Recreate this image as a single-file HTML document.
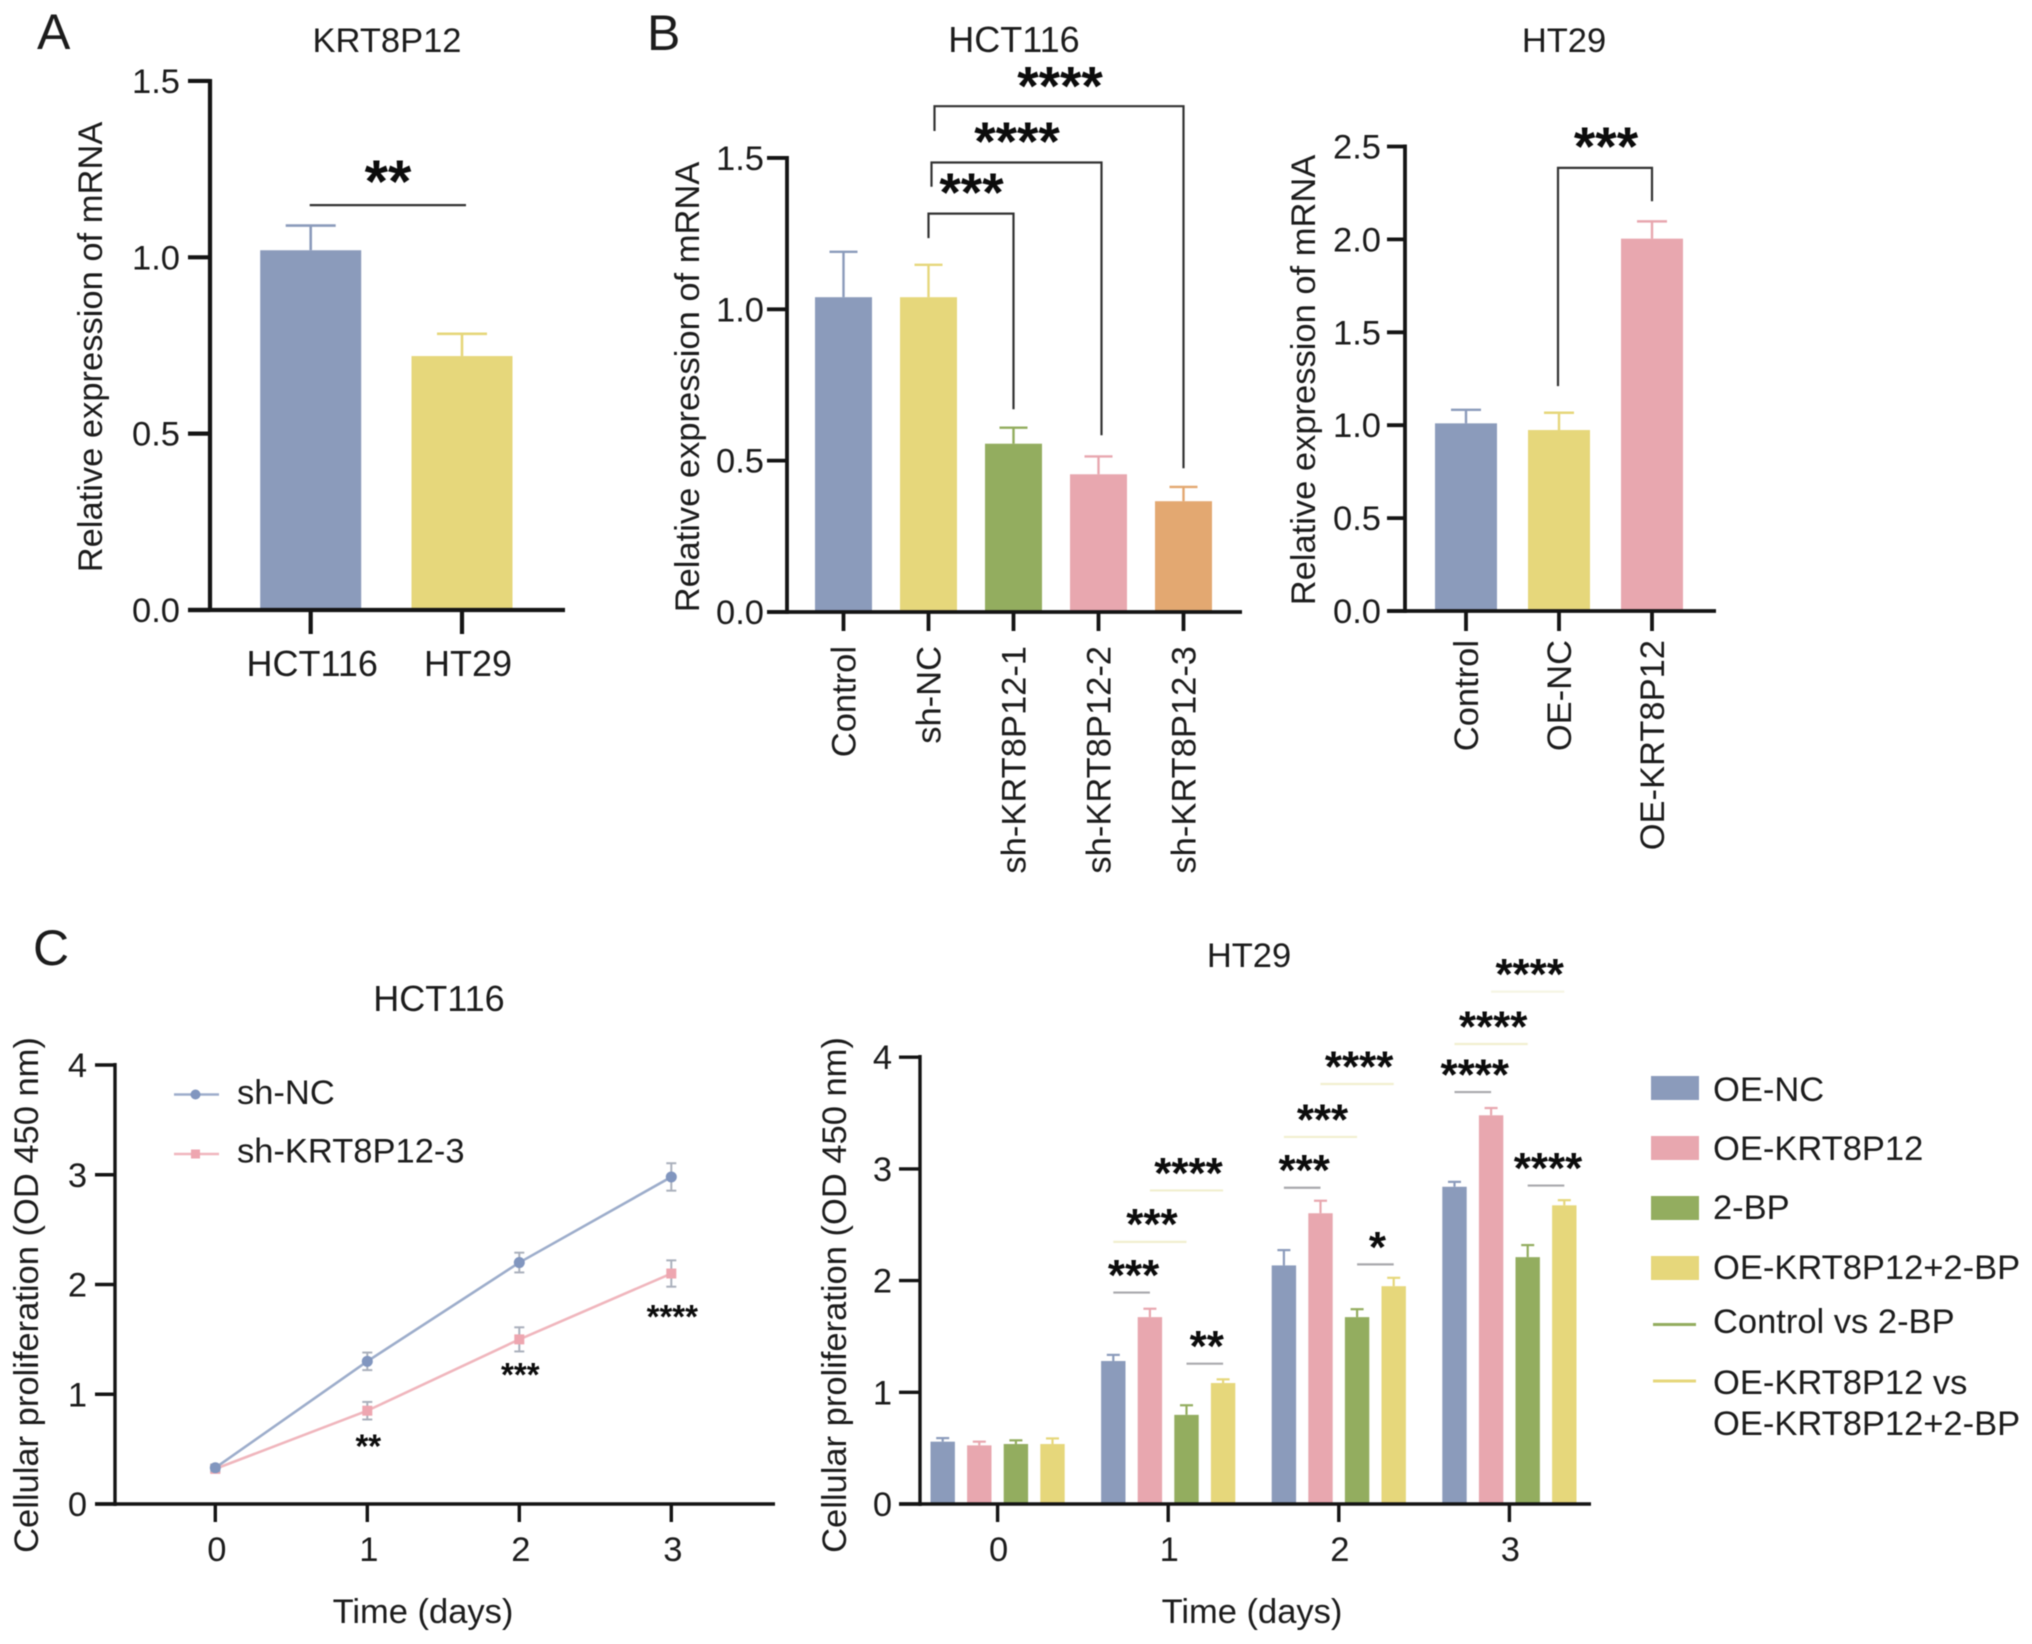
<!DOCTYPE html>
<html lang="en">
<head>
<meta charset="utf-8">
<title>KRT8P12 expression and proliferation figure</title>
<style>
html,body{margin:0;padding:0;background:#fff;width:2032px;height:1644px;overflow:hidden}
svg{display:block;filter:blur(.55px)}
text{font-family:"Liberation Sans",Arial,sans-serif;fill:#1c1c1c;font-size:34.5px}
.letter{font-size:50px}
.star{font-weight:700;fill:#0c0c0c}
.wide{font-size:36px}
</style>
</head>
<body>
<svg id="fig" xmlns="http://www.w3.org/2000/svg" width="2032" height="1644" viewBox="0 0 2032 1644">
  <rect x="0" y="0" width="2032" height="1644" fill="#fff"/>

  <!-- static text -->
  <text class="letter" x="37" y="49">A</text>
  <text class="letter" x="647" y="50">B</text>
  <text class="letter" x="33" y="965">C</text>

  <text x="387" y="52" text-anchor="middle">KRT8P12</text>
  <text class="wide" x="1014" y="52" text-anchor="middle">HCT116</text>
  <text x="1564" y="52" text-anchor="middle">HT29</text>
  <text class="wide" x="439" y="1011" text-anchor="middle">HCT116</text>
  <text x="1249" y="967" text-anchor="middle">HT29</text>

  <text transform="translate(102,347) rotate(-90)" text-anchor="middle">Relative expression of mRNA</text>
  <text transform="translate(699,387) rotate(-90)" text-anchor="middle">Relative expression of mRNA</text>
  <text transform="translate(1315,380) rotate(-90)" text-anchor="middle">Relative expression of mRNA</text>
  <text transform="translate(38,1295) rotate(-90)" text-anchor="middle">Cellular proliferation (OD 450 nm)</text>
  <text transform="translate(846,1295) rotate(-90)" text-anchor="middle">Cellular proliferation (OD 450 nm)</text>

  <text x="423" y="1623" text-anchor="middle">Time (days)</text>
  <text x="1252" y="1623" text-anchor="middle">Time (days)</text>

  <g>
    <line x1="174" y1="1094.5" x2="219" y2="1094.5" stroke="#9dadcb" stroke-width="2.5"/>
    <circle cx="195.5" cy="1094.5" r="5" fill="#8196bf"/>
    <text x="237" y="1104">sh-NC</text>
    <line x1="174" y1="1154" x2="219" y2="1154" stroke="#f0b6bd" stroke-width="2.5"/>
    <rect x="191" y="1149.5" width="9" height="9" fill="#eea6b0"/>
    <text x="237" y="1162.5">sh-KRT8P12-3</text>
  </g>

  <g>
    <rect x="1651" y="1076" width="48" height="24" fill="#8b9bbb"/>
    <text x="1713" y="1101">OE-NC</text>
    <rect x="1651" y="1136" width="48" height="24" fill="#e8a7af"/>
    <text x="1713" y="1160">OE-KRT8P12</text>
    <rect x="1651" y="1196" width="48" height="24" fill="#93ad5f"/>
    <text x="1713" y="1219">2-BP</text>
    <rect x="1651" y="1256" width="48" height="24" fill="#e6d77b"/>
    <text x="1713" y="1279">OE-KRT8P12+2-BP</text>
    <line x1="1653" y1="1324.5" x2="1696" y2="1324.5" stroke="#93ad5f" stroke-width="3"/>
    <text x="1713" y="1333">Control vs 2-BP</text>
    <line x1="1653" y1="1381" x2="1696" y2="1381" stroke="#e6d77b" stroke-width="3"/>
    <text x="1713" y="1394">OE-KRT8P12 vs</text>
    <text x="1713" y="1435">OE-KRT8P12+2-BP</text>
  </g>
</svg>

<script>
// ---------- data ----------
const aCategories = ['HCT116', 'HT29'];
const aValues = [1.02, 0.72];
const aErrors = [0.07, 0.063];
const expressionTicksA = ['0.0', '0.5', '1.0', '1.5'];

const bHctCategories = ['Control', 'sh-NC', 'sh-KRT8P12-1', 'sh-KRT8P12-2', 'sh-KRT8P12-3'];
const bHctValues = [1.04, 1.04, 0.556, 0.455, 0.366];
const bHctErrors = [0.15, 0.107, 0.053, 0.059, 0.047];
const expressionTicksB = ['0.0', '0.5', '1.0', '1.5'];

const bHtCategories = ['Control', 'OE-NC', 'OE-KRT8P12'];
const bHtValues = [1.01, 0.974, 2.004];
const bHtErrors = [0.073, 0.093, 0.093];
const expressionTicksHt = ['0.0', '0.5', '1.0', '1.5', '2.0', '2.5'];

const timeLabels = ['0', '1', '2', '3'];
const prolifTicks = ['0', '1', '2', '3', '4'];
const lineShNc = [0.33, 1.3, 2.2, 2.98];
const lineShNcErr = [0.03, 0.08, 0.09, 0.125];
const lineShKrt = [0.32, 0.85, 1.5, 2.1];
const lineShKrtErr = [0.03, 0.08, 0.11, 0.12];
const lineStars = ['', '**', '***', '****'];

const oeNc = [0.558, 1.28, 2.136, 2.84];
const oeNcErr = [0.032, 0.055, 0.137, 0.044];
const oeKrt = [0.525, 1.673, 2.603, 3.48];
const oeKrtErr = [0.033, 0.075, 0.112, 0.065];
const twoBp = [0.537, 0.798, 1.673, 2.21];
const twoBpErr = [0.033, 0.086, 0.071, 0.108];
const combo = [0.537, 1.083, 1.95, 2.674];
const comboErr = [0.05, 0.033, 0.075, 0.046];

// ---------- helpers ----------
const NS = 'http://www.w3.org/2000/svg';
const fig = document.getElementById('fig');
const BLUE = '#8b9bbb', YEL = '#e6d77b', GRN = '#93ad5f', PNK = '#e8a7af', ORG = '#e3a871';
const INK = '#141414', GREY = '#a9a9ad', PALE = '#f1efcf';

function mk(tag, attrs, name, parent) {
  const el = document.createElementNS(NS, tag);
  for (const k in attrs) el.setAttribute(k, attrs[k]);
  
  
  (parent || fig).appendChild(el);
  return el;
}
function seg(x1, y1, x2, y2, stroke, w, name, parent) {
  return mk('line', {x1: x1, y1: y1, x2: x2, y2: y2, stroke: stroke, 'stroke-width': w}, name, parent);
}
function label(x, y, str, anchor, name, parent, rotate, size) {
  const attrs = {'text-anchor': anchor};
  if (rotate) attrs.transform = 'translate(' + x + ',' + y + ') rotate(-90)';
  else { attrs.x = x; attrs.y = y; }
  if (size) attrs.style = 'font-size:' + size + 'px';
  const t = mk('text', attrs, name, parent);
  t.textContent = str;
  return t;
}
function stars(cx, cy, str, size, name, parent) {
  const t = mk('text', {x: cx, y: cy + size * 0.475, 'text-anchor': 'middle', 'class': 'star', style: 'font-size:' + size + 'px'}, name, parent);
  t.textContent = str;
  return t;
}
function yAxis(g, cfg, yf, labels) {
  seg(cfg.axisX, cfg.top - 2, cfg.axisX, cfg.base + 2, INK, cfg.w, 'y-axis-line', g);
  labels.forEach(function (lab) {
    const v = parseFloat(lab), y = yf(v);
    seg(cfg.tickLeft, y, cfg.axisX, y, INK, cfg.w, 'y-tick-' + lab, g);
    label(cfg.labelRight, y + 12, lab, 'end', 'y-tick-label-' + lab, g);
  });
}
function xAxisLine(g, cfg) {
  seg(cfg.tickLeft, cfg.base, cfg.right, cfg.base, INK, cfg.w, 'x-axis-line', g);
}
function bars(g, cats, vals, errs, colors, xf, yf, bw, capW, errW) {
  vals.forEach(function (v, i) {
    const c = xf(i), top = yf(v), et = yf(v + errs[i]);
    seg(c, top, c, et, colors[i], errW, 'error-stem-' + cats[i], g);
    seg(c - capW / 2, et, c + capW / 2, et, colors[i], errW, 'error-cap-' + cats[i], g);
    mk('rect', {x: c - bw / 2, y: top, width: bw, height: yf(0) - top, fill: colors[i]}, 'bar-' + cats[i], g);
  });
}
function bracket(g, xa, ya, top, xb, yb, name) {
  mk('path', {d: 'M' + xa + ' ' + ya + 'V' + top + 'H' + xb + 'V' + yb, fill: 'none', stroke: '#333', 'stroke-width': 2.2}, name, g);
}

// ---------- Panel A ----------
(function () {
  const g = mk('g', {}, 'chart-a-krt8p12');
  const yf = function (v) { return 610 - v * 352.7; };
  const xf = function (i) { return 310.7 + i * 151.3; };
  const cfg = {axisX: 210, top: 81, base: 610, tickLeft: 188, labelRight: 180, right: 565, w: 4.2};
  bars(g, aCategories, aValues, aErrors, [BLUE, YEL], xf, yf, 101, 50, 2.6);
  yAxis(g, cfg, yf, expressionTicksA);
  xAxisLine(g, cfg);
  aCategories.forEach(function (c, i) {
    seg(xf(i), 610, xf(i), 634, INK, 4.2, 'x-tick-' + c, g);
    label(xf(i) + (i ? 6 : 1.5), 676, c, 'middle', 'x-tick-label-' + c, g, false, 36);
  });
  seg(xf(0) - 1, yf(1.148), xf(1) + 4, yf(1.148), '#333', 2.2, 'significance-line', g);
  stars(388, 173.5, '**', 60, 'significance-stars', g);
})();

// ---------- Panel B HCT116 ----------
(function () {
  const g = mk('g', {}, 'chart-b-hct116');
  const yf = function (v) { return 612 - v * 302.7; };
  const xf = function (i) { return 843.5 + i * 85; };
  const cfg = {axisX: 787, top: 158, base: 612, tickLeft: 767, labelRight: 764, right: 1242, w: 3.8};
  bars(g, bHctCategories, bHctValues, bHctErrors, [BLUE, YEL, GRN, PNK, ORG], xf, yf, 57, 28, 2.4);
  yAxis(g, cfg, yf, expressionTicksB);
  xAxisLine(g, cfg);
  bHctCategories.forEach(function (c, i) {
    seg(xf(i), 612, xf(i), 631, INK, 3.8, 'x-tick-' + c, g);
    label(xf(i) + 12, 646, c, 'end', 'x-tick-label-' + c, g, true);
  });
  bracket(g, xf(1), yf(1.235), yf(1.316), xf(2), yf(0.67), 'bracket-sh-nc-vs-sh-1');
  stars(971.5, 185, '***', 55, 'significance-stars-sh-1', g);
  bracket(g, xf(1) + 3, yf(1.405), yf(1.485), xf(3) + 3, yf(0.584), 'bracket-sh-nc-vs-sh-2');
  stars(1017, 134, '****', 55, 'significance-stars-sh-2', g);
  bracket(g, xf(1) + 6, yf(1.589), yf(1.671), xf(4), yf(0.475), 'bracket-sh-nc-vs-sh-3');
  stars(1060, 78.6, '****', 55, 'significance-stars-sh-3', g);
})();

// ---------- Panel B HT29 ----------
(function () {
  const g = mk('g', {}, 'chart-b-ht29');
  const yf = function (v) { return 611 - v * 185.8; };
  const xf = function (i) { return 1466 + i * 93; };
  const cfg = {axisX: 1405, top: 146.5, base: 611, tickLeft: 1387, labelRight: 1381, right: 1716, w: 3.8};
  bars(g, bHtCategories, bHtValues, bHtErrors, [BLUE, YEL, PNK], xf, yf, 62, 30, 2.4);
  yAxis(g, cfg, yf, expressionTicksHt);
  xAxisLine(g, cfg);
  bHtCategories.forEach(function (c, i) {
    seg(xf(i), 611, xf(i), 631, INK, 3.8, 'x-tick-' + c, g);
    label(xf(i) + 12, 640, c, 'end', 'x-tick-label-' + c, g, true);
  });
  bracket(g, xf(1) - 1, yf(1.21), yf(2.385), xf(2), yf(2.205), 'bracket-oe-nc-vs-oe-krt8p12');
  stars(1606, 139, '***', 55, 'significance-stars-oe', g);
})();

// ---------- Panel C HCT116 line chart ----------
(function () {
  const g = mk('g', {}, 'chart-c-hct116');
  const yf = function (v) { return 1504 - v * 109.75; };
  const xf = function (i) { return 215.3 + i * 152; };
  const cfg = {axisX: 115, top: 1065, base: 1504, tickLeft: 95, labelRight: 87, right: 775, w: 3.4};
  yAxis(g, cfg, yf, prolifTicks);
  xAxisLine(g, cfg);
  timeLabels.forEach(function (c, i) {
    seg(xf(i), 1504, xf(i), 1522, INK, 3.4, 'x-tick-day-' + c, g);
    label(xf(i) + 1.5, 1561, c, 'middle', 'x-tick-label-day-' + c, g);
  });
  function series(vals, errs, color, mark, name, isSquare) {
    const pts = vals.map(function (v, i) { return xf(i) + ',' + yf(v); }).join(' ');
    mk('polyline', {points: pts, fill: 'none', stroke: color, 'stroke-width': 2.6}, 'line-' + name, g);
    vals.forEach(function (v, i) {
      const x = xf(i), a = yf(v + errs[i]), b = yf(v - errs[i]);
      seg(x, a, x, b, '#aab0bc', 2, 'error-stem-' + name + '-' + i, g);
      seg(x - 5, a, x + 5, a, '#aab0bc', 2, 'error-cap-high-' + name + '-' + i, g);
      seg(x - 5, b, x + 5, b, '#aab0bc', 2, 'error-cap-low-' + name + '-' + i, g);
      if (isSquare) mk('rect', {x: x - 5, y: yf(v) - 5, width: 10, height: 10, fill: mark}, 'point-' + name + '-' + i, g);
      else mk('circle', {cx: x, cy: yf(v), r: 5.5, fill: mark}, 'point-' + name + '-' + i, g);
    });
  }
  series(lineShKrt, lineShKrtErr, '#f0b6bd', '#eea6b0', 'sh-krt8p12-3', true);
  series(lineShNc, lineShNcErr, '#9dadcb', '#8196bf', 'sh-nc', false);
  lineStars.forEach(function (s, i) {
    if (s) stars(xf(i) + 1, yf(lineShKrt[i]) + (i === 3 ? 39 : 31), s, 33, 'significance-stars-day-' + i, g);
  });
})();

// ---------- Panel C HT29 grouped bars ----------
(function () {
  const g = mk('g', {}, 'chart-c-ht29');
  const yf = function (v) { return 1504 - v * 111.7; };
  const group = function (i) { return 997.6 + i * 170.6; };
  const pitch = 36.6;
  const barX = function (gi, si) { return group(gi) + (si - 1.5) * pitch; };
  const cfg = {axisX: 920, top: 1057, base: 1504, tickLeft: 899, labelRight: 892, right: 1591, w: 3.4};
  const seriesList = [
    {n: 'oe-nc', v: oeNc, e: oeNcErr, c: BLUE},
    {n: 'oe-krt8p12', v: oeKrt, e: oeKrtErr, c: PNK},
    {n: '2-bp', v: twoBp, e: twoBpErr, c: GRN},
    {n: 'oe-krt8p12-2-bp', v: combo, e: comboErr, c: YEL}
  ];
  seriesList.forEach(function (s, si) {
    s.v.forEach(function (v, gi) {
      const x = barX(gi, si), top = yf(v), et = yf(v + s.e[gi]);
      seg(x, top, x, et, s.c, 2.2, 'error-stem-' + s.n + '-day-' + gi, g);
      seg(x - 6.5, et, x + 6.5, et, s.c, 2.2, 'error-cap-' + s.n + '-day-' + gi, g);
      mk('rect', {x: x - 12.2, y: top, width: 24.4, height: yf(0) - top, fill: s.c}, 'bar-' + s.n + '-day-' + gi, g);
    });
  });
  yAxis(g, cfg, yf, prolifTicks);
  xAxisLine(g, cfg);
  timeLabels.forEach(function (c, i) {
    seg(group(i), 1504, group(i), 1522, INK, 3.4, 'x-tick-day-' + c, g);
    label(group(i) + 1, 1561, c, 'middle', 'x-tick-label-day-' + c, g);
  });
  function sig(gi, a, b, level, str, color, name) {
    const y = yf(level), xa = barX(gi, a), xb = barX(gi, b);
    seg(xa, y, xb, y, color, 2.2, 'significance-line-' + name, g);
    stars((xa + xb) / 2 + 2, y - 23.5, str, 44, 'significance-stars-' + name, g);
  }
  sig(1, 0, 1, 1.893, '***', GREY, 'day1-a');
  sig(1, 0, 2, 2.347, '***', PALE, 'day1-b');
  sig(1, 1, 3, 2.807, '****', PALE, 'day1-c');
  sig(1, 2, 3, 1.256, '**', GREY, 'day1-d');
  sig(2, 0, 1, 2.831, '***', GREY, 'day2-a');
  sig(2, 0, 2, 3.286, '***', PALE, 'day2-b');
  sig(2, 1, 3, 3.76, '****', PALE, 'day2-c');
  sig(2, 2, 3, 2.145, '*', GREY, 'day2-d');
  sig(3, 0, 1, 3.688, '****', GREY, 'day3-a');
  sig(3, 0, 2, 4.118, '****', PALE, 'day3-b');
  sig(3, 1, 3, 4.587, '****', '#f6f5e4', 'day3-c');
  sig(3, 2, 3, 2.851, '****', GREY, 'day3-d');
})();
</script>
</body>
</html>
